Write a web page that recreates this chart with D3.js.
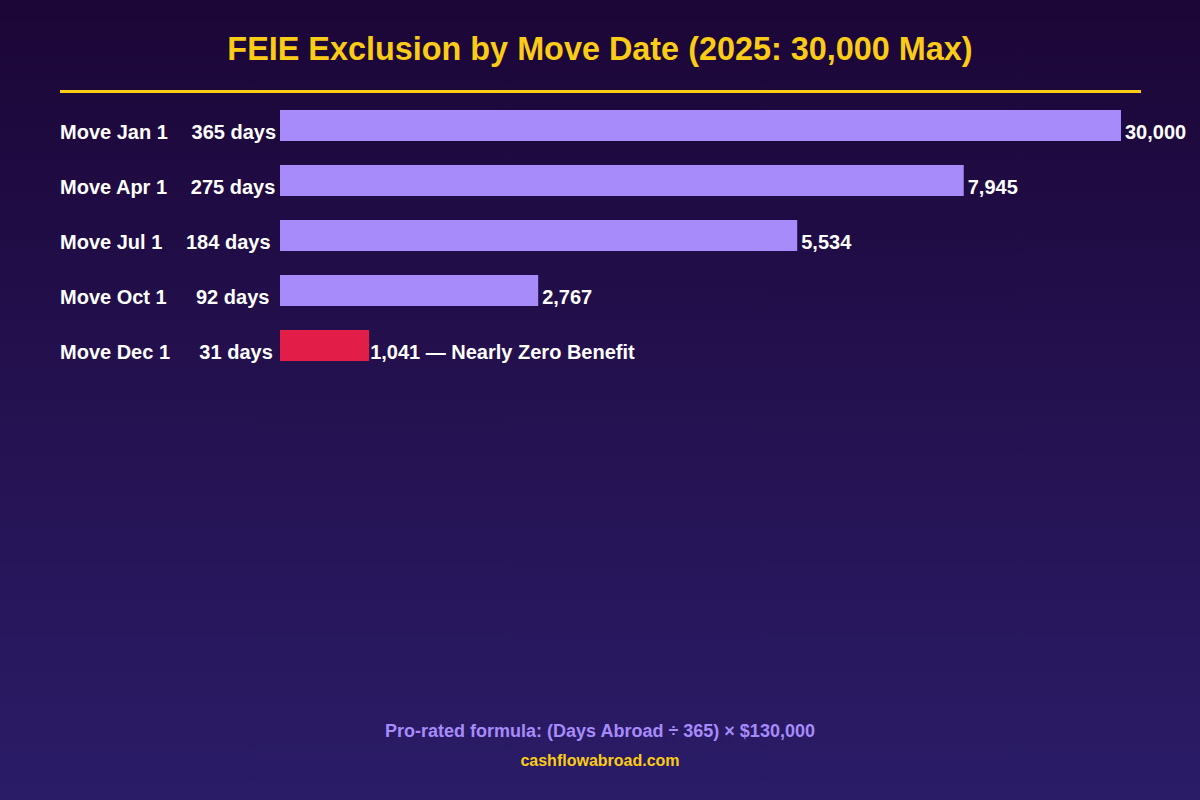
<!DOCTYPE html>
<html>
<head>
<meta charset="utf-8">
<script src="https://cdn.jsdelivr.net/npm/d3@7"></script>
<style>
  html, body { margin: 0; padding: 0; }
  body { width: 1200px; height: 800px; overflow: hidden; }
  svg text { font-family: "Liberation Sans", Arial, sans-serif; font-weight: bold; }
</style>
</head>
<body>
<svg id="chart" width="1200" height="800"></svg>
<script>
// Chart data
const moves = ["Move Jan 1", "Move Apr 1", "Move Jul 1", "Move Oct 1", "Move Dec 1"];
const daysAbroad = [365, 275, 184, 92, 31];
const exclusion = [30000, 7945, 5534, 2767, 1041];
// bar length as a share of the longest bar (percent)
const barShare = [100, 81.3, 61.5, 30.7, 10.6];
const notes = ["", "", "", "", " \u2014 Nearly Zero Benefit"];

let svg = d3.select("#chart");

// Background gradient
let defs = svg.append("defs");
let grad = defs.append("linearGradient")
    .attr("id", "bg")
    .attr("x1", 0).attr("y1", 0)
    .attr("x2", 0).attr("y2", 1);
grad.append("stop").attr("offset", "0%").attr("stop-color", "#1c0637");
grad.append("stop").attr("offset", "100%").attr("stop-color", "#2b1c68");

svg.append("rect")
    .attr("width", 1200)
    .attr("height", 800)
    .attr("fill", "url(#bg)");

// Title
svg.append("text")
    .attr("x", 600)
    .attr("y", 60)
    .attr("text-anchor", "middle")
    .style("font-size", "32.4px")
    .style("fill", "#facc15")
    .text("FEIE Exclusion by Move Date (2025: 30,000 Max)");

// Rule under the title
svg.append("rect")
    .attr("x", 60)
    .attr("y", 90)
    .attr("width", 1081)
    .attr("height", 3)
    .attr("fill", "#facc15");

// Scales
let x = d3.scaleLinear()
    .domain([0, 100])
    .range([280, 1121]);

let y = d3.scaleBand()
    .domain(moves)
    .range([110, 361])
    .paddingInner(24 / 55)
    .paddingOuter(0);

let rows = svg.selectAll("g.row")
    .data(moves)
    .enter()
    .append("g")
    .attr("class", "row")
    .attr("transform", d => "translate(0," + y(d) + ")");

// Bars
rows.append("rect")
    .attr("x", x(0))
    .attr("y", 0)
    .attr("height", y.bandwidth())
    .attr("width", (d, i) => x(barShare[i]) - x(0))
    .attr("fill", (d, i) => i === moves.length - 1 ? "#e11d48" : "#a78bfa");

// Move label
rows.append("text")
    .attr("class", "name")
    .attr("x", 60)
    .attr("y", 29)
    .style("font-size", "20px")
    .style("fill", "#ffffff")
    .text(d => d);

// Days label, centred in a box that follows the move label
rows.append("text")
    .attr("x", function() {
        let nameLen = d3.select(this.parentNode).select("text.name").node().getComputedTextLength();
        return 60 + nameLen + 66;
    })
    .attr("y", 29)
    .attr("text-anchor", "middle")
    .style("font-size", "20px")
    .style("fill", "#ffffff")
    .text((d, i) => daysAbroad[i] + " days");

// Value label
rows.append("text")
    .attr("x", (d, i) => x(barShare[i]) + (i === moves.length - 1 ? 1 : 4))
    .attr("y", 29)
    .style("font-size", "20px")
    .style("fill", "#ffffff")
    .text((d, i) => d3.format(",")(exclusion[i]) + notes[i]);

// Footer
svg.append("text")
    .attr("x", 600)
    .attr("y", 737)
    .attr("text-anchor", "middle")
    .style("font-size", "18px")
    .style("fill", "#a78bfa")
    .text("Pro-rated formula: (Days Abroad \u00f7 365) \u00d7 $130,000");

svg.append("text")
    .attr("x", 600)
    .attr("y", 766)
    .attr("text-anchor", "middle")
    .style("font-size", "16px")
    .style("fill", "#facc15")
    .text("cashflowabroad.com");
</script>
</body>
</html>
